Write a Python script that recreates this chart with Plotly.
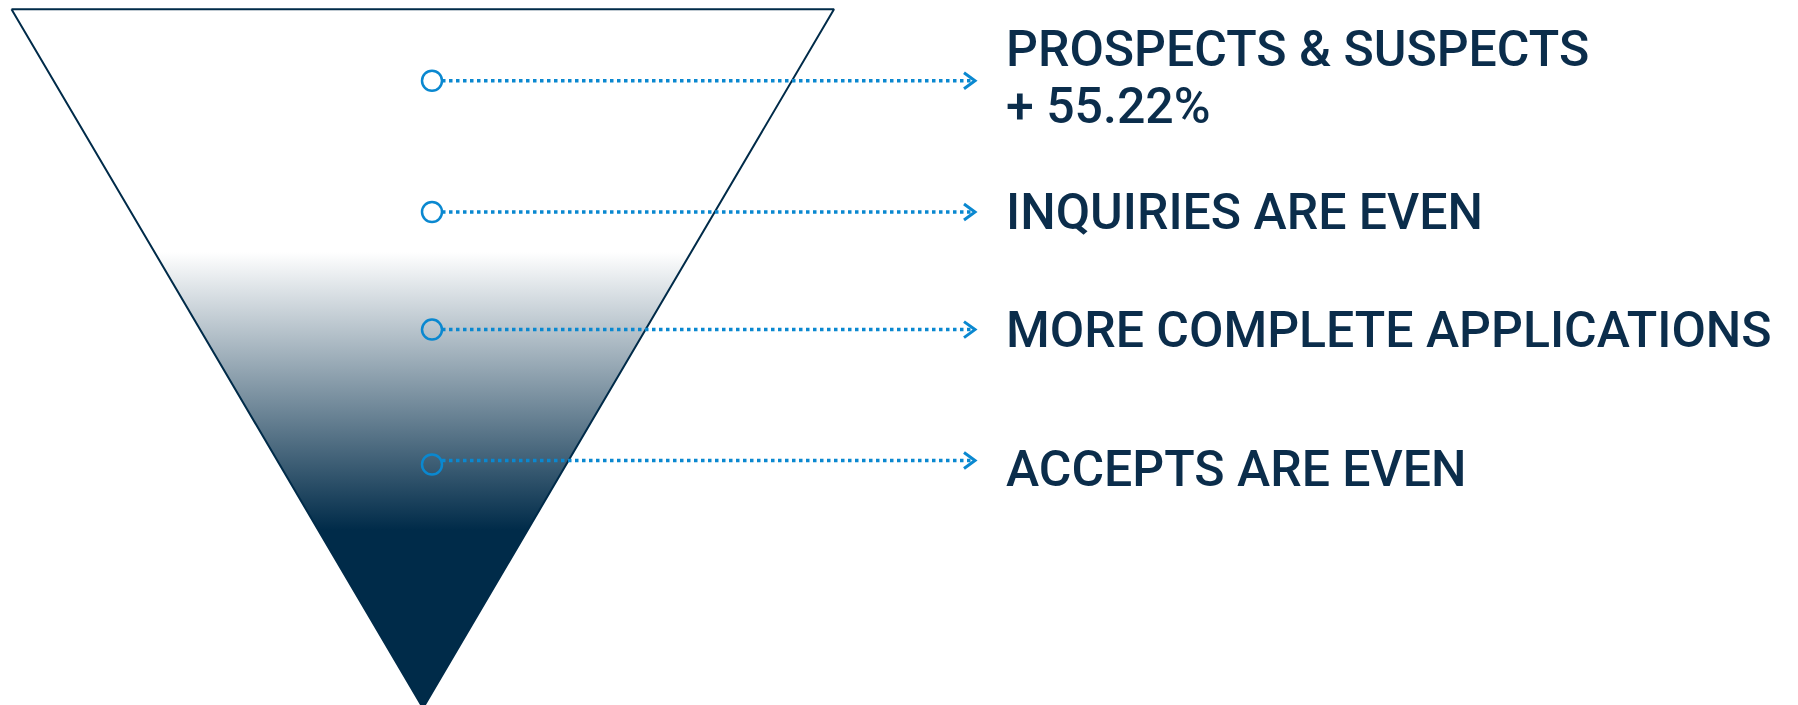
import plotly.graph_objects as go

# ---- content ----
stage_names = ["PROSPECTS & SUSPECTS", "INQUIRIES ARE EVEN",
               "MORE COMPLETE APPLICATIONS", "ACCEPTS ARE EVEN"]
stage_notes = ["+ 55.22%", "", "", ""]

# ---- layout / style (pixel space; page has an 8px body margin) ----
W, H = 1798, 705
NAVY = "#002b49"
TEXT = "#0b2d4b"
BLUE = "#0a88d0"
funnel_left, funnel_right, funnel_top, funnel_tip_x, funnel_tip_y = 3.5, 826, 1.2, 415, 700
grad_start, grad_stop = 244, 522
marker_x = 424
marker_y = [72.7, 204, 321.6, 456.5]
line_dy = [0, 0, 0, -4]
arrow_x = 967
text_x = 996
text_y = [41, 204, 322, 461]
note_dy = 57

fig = go.Figure()

# funnel triangle with vertical gradient
fig.add_trace(go.Scatter(
    x=[funnel_left, funnel_right, funnel_tip_x, funnel_left],
    y=[funnel_top, funnel_top, funnel_tip_y, funnel_top],
    mode="lines", fill="toself",
    line=dict(color=NAVY, width=2),
    fillgradient=dict(type="vertical", start=grad_start, stop=grad_stop,
                      colorscale=[[0, "rgba(255,255,255,1)"], [1, NAVY]]),
    hoverinfo="skip", showlegend=False))

for i, name in enumerate(stage_names):
    y = marker_y[i]
    ly = y + line_dy[i]
    # dotted connector
    fig.add_trace(go.Scatter(
        x=[marker_x + 10, arrow_x - 2], y=[ly, ly], mode="lines",
        line=dict(color=BLUE, width=3.5, dash="dot"),
        hoverinfo="skip", showlegend=False))
    # chevron
    fig.add_trace(go.Scatter(
        x=[arrow_x - 11, arrow_x, arrow_x - 11], y=[ly - 8, ly, ly + 8], mode="lines",
        line=dict(color=BLUE, width=3),
        hoverinfo="skip", showlegend=False))
    # circle marker
    fig.add_trace(go.Scatter(
        x=[marker_x], y=[y], mode="markers",
        marker=dict(symbol="circle-open", size=20, color=BLUE, line=dict(width=2.5, color=BLUE)),
        hoverinfo="skip", showlegend=False))
    fig.add_annotation(x=text_x, y=text_y[i], text=name, showarrow=False,
                       xanchor="left", yanchor="middle",
                       font=dict(family="Roboto", size=50, color=TEXT, weight=500))
    if stage_notes[i]:
        fig.add_annotation(x=text_x, y=text_y[i] + note_dy, text=stage_notes[i], showarrow=False,
                           xanchor="left", yanchor="middle",
                           font=dict(family="Roboto", size=50, color=TEXT, weight=500))

fig.update_layout(
    width=W, height=H, margin=dict(l=0, r=0, t=0, b=0),
    paper_bgcolor="white", plot_bgcolor="white",
    xaxis=dict(range=[0, W], visible=False, fixedrange=True),
    yaxis=dict(range=[H, 0], visible=False, fixedrange=True),
)

fig.write_html("out.html")
